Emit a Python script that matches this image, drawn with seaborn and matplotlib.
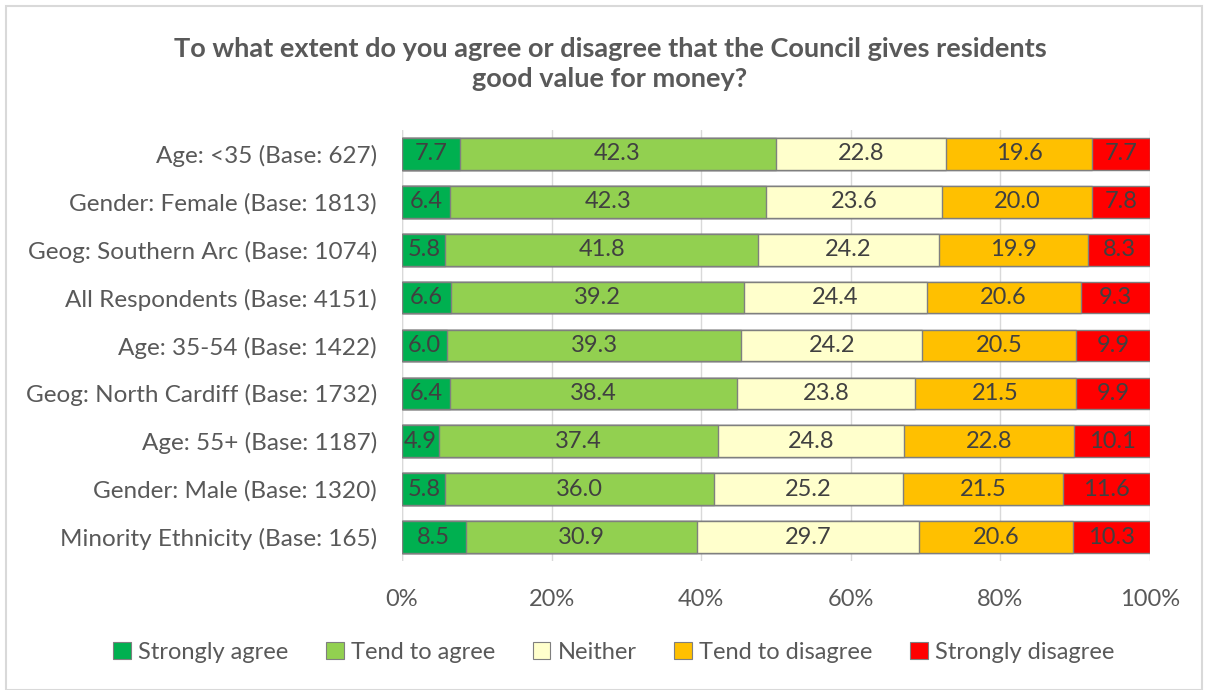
import numpy as np
import pandas as pd
import matplotlib
matplotlib.use("Agg")
import matplotlib.pyplot as plt
from matplotlib.patches import Rectangle, Patch
import seaborn as sns

categories = [
    "Age: <35 (Base: 627)",
    "Gender: Female (Base: 1813)",
    "Geog: Southern Arc (Base: 1074)",
    "All Respondents (Base: 4151)",
    "Age: 35-54 (Base: 1422)",
    "Geog: North Cardiff (Base: 1732)",
    "Age: 55+ (Base: 1187)",
    "Gender: Male (Base: 1320)",
    "Minority Ethnicity (Base: 165)",
]
strongly_agree = [7.7, 6.4, 5.8, 6.6, 6.0, 6.4, 4.9, 5.8, 8.5]
tend_to_agree = [42.3, 42.3, 41.8, 39.2, 39.3, 38.4, 37.4, 36.0, 30.9]
neither = [22.8, 23.6, 24.2, 24.4, 24.2, 23.8, 24.8, 25.2, 29.7]
tend_to_disagree = [19.6, 20.0, 19.9, 20.6, 20.5, 21.5, 22.8, 21.5, 20.6]
strongly_disagree = [7.7, 7.8, 8.3, 9.3, 9.9, 9.9, 10.1, 11.6, 10.3]

series_names = ["Strongly agree", "Tend to agree", "Neither",
                "Tend to disagree", "Strongly disagree"]
series_values = [strongly_agree, tend_to_agree, neither,
                 tend_to_disagree, strongly_disagree]
colors = ["#00B050", "#92D050", "#FFFFCC", "#FFC000", "#FF0000"]
x_ticks = [0, 20, 40, 60, 80, 100]

sns.set_theme(style="white")
plt.rcParams["font.family"] = ["Lato", "DejaVu Sans"]

vals = np.array(series_values)
totals = vals.sum(axis=0)
shares = vals / totals * 100  # 100% stacked
cum = np.cumsum(shares, axis=0)

fig = plt.figure(figsize=(12.08, 6.9), dpi=100)
ax = fig.add_axes([0.3328, 0.187, 0.952 - 0.3328, 0.8116 - 0.187])

for x in x_ticks:
    ax.axvline(x, color="#D9D9D9", lw=1, zorder=0)

# draw cumulative bars from the right-most edge inward so each segment shows
for i in range(len(series_names) - 1, -1, -1):
    df = pd.DataFrame({"category": categories, "end": cum[i]})
    sns.barplot(data=df, x="end", y="category", orient="h", color=colors[i],
                width=0.66, edgecolor="#7F7F7F", linewidth=1.0,
                saturation=1, ax=ax, zorder=2)

for i in range(len(series_names)):
    start = cum[i] - shares[i]
    for j, cat in enumerate(categories):
        ax.text(start[j] + shares[i][j] / 2, j, f"{vals[i][j]:.1f}",
                ha="center", va="center", fontsize=17, color="#404040",
                zorder=5)

ax.set_xlim(0, 100)
ax.set_ylim(len(categories) - 0.5, -0.5)
ax.set_xticks(x_ticks)
ax.set_xticklabels([f"{t}%" for t in x_ticks], fontsize=17, color="#595959")
ax.tick_params(axis="y", labelsize=17.5, labelcolor="#595959", length=0, pad=18)
ax.tick_params(axis="x", length=0, pad=20)
ax.set_xlabel("")
ax.set_ylabel("")
for s in ax.spines.values():
    s.set_visible(False)
ax.axvline(0, color="#D9D9D9", lw=1, zorder=1)

fig.text(0.505, 0.907, "To what extent do you agree or disagree that the Council gives residents\ngood value for money?",
         ha="center", va="center", fontsize=19.5, fontweight="bold",
         color="#595959", linespacing=1.3)

handles = [Patch(facecolor=c, edgecolor="#7F7F7F", lw=0.8) for c in colors]
fig.legend(handles, series_names, loc="center", bbox_to_anchor=(0.508, 0.055),
           ncol=5, frameon=False, fontsize=17, handlelength=0.75,
           handleheight=0.75, handletextpad=0.3, columnspacing=1.6,
           labelcolor="#595959")

fig.patches.append(Rectangle((0.005, 0.0), 0.99, 0.992, transform=fig.transFigure,
                             fill=False, edgecolor="#D9D9D9", lw=1.5))

fig.savefig("out.png", dpi=100, facecolor="white")
